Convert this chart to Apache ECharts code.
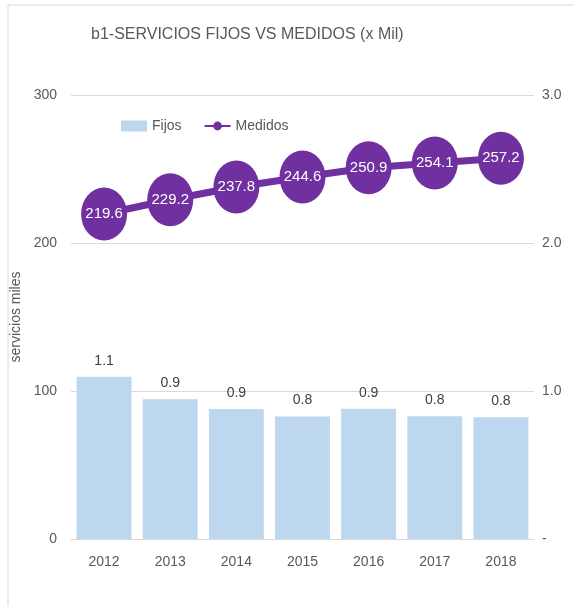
<!DOCTYPE html>
<html>
<head>
<meta charset="utf-8">
<script src="https://cdn.jsdelivr.net/npm/echarts@6/dist/echarts.min.js"></script>
<style>
  html, body { margin: 0; padding: 0; background: #fff; }
  #chart { width: 574px; height: 606px; }
</style>
</head>
<body>
<div id="chart"></div>
<script>
var myChart = echarts.init(document.getElementById('chart'));

var titleText = 'b1-SERVICIOS FIJOS VS MEDIDOS (x Mil)';
var years = ['2012', '2013', '2014', '2015', '2016', '2017', '2018'];
// Fijos on the right axis (0 - 3)
var fijos = [1.097, 0.944, 0.878, 0.828, 0.880, 0.830, 0.823];
// Medidos on the left axis (0 - 300)
var medidos = [219.6, 229.2, 237.8, 244.6, 250.9, 254.1, 257.2];

var textColor = '#595959';
var gridColor = '#d9d9d9';
var purple = '#7030a0';
var barColor = '#bdd7ee';
var fontFam = 'Liberation Sans';

option = {
    backgroundColor: '#fff',
    textStyle: { fontFamily: fontFam },
    title: {
        text: titleText,
        left: 86,
        top: 22,
        textStyle: { color: textColor, fontSize: 16, fontWeight: 'normal', fontFamily: fontFam }
    },
    graphic: [{
        type: 'rect',
        shape: { x: 8, y: 5, width: 620, height: 640 },
        style: { fill: 'none', stroke: gridColor, lineWidth: 1 },
        silent: true
    }],
    legend: {
        left: 116,
        top: 114,
        itemGap: 22,
        itemWidth: 26,
        itemHeight: 11,
        textStyle: { color: textColor, fontSize: 14 },
        data: [
            { name: 'Fijos', icon: 'rect' },
            { name: 'Medidos', itemStyle: { color: purple } }
        ]
    },
    grid: { left: 71, right: 40, top: 95, bottom: 67 },
    xAxis: {
        type: 'category',
        data: years,
        axisLine: { lineStyle: { color: gridColor } },
        axisTick: { show: false },
        axisLabel: { color: textColor, fontSize: 14, margin: 16 }
    },
    yAxis: [{
        type: 'value',
        min: 0,
        max: 300,
        interval: 100,
        name: 'servicios miles',
        nameLocation: 'middle',
        nameRotate: 90,
        nameGap: 45,
        nameTextStyle: { color: textColor, fontSize: 14 },
        axisLine: { show: false },
        axisTick: { show: false },
        axisLabel: { color: textColor, fontSize: 14, margin: 14 },
        splitLine: { lineStyle: { color: gridColor } }
    }, {
        type: 'value',
        min: 0,
        max: 3,
        interval: 1,
        axisLine: { show: false },
        axisTick: { show: false },
        splitLine: { show: false },
        axisLabel: {
            color: textColor, fontSize: 14, margin: 8,
            formatter: function (v) { return v === 0 ? '-' : v.toFixed(1); }
        }
    }],
    series: [{
        name: 'Fijos',
        type: 'bar',
        yAxisIndex: 1,
        data: fijos,
        barCategoryGap: '17%',
        itemStyle: { color: barColor },
        label: {
            show: true,
            position: 'top',
            distance: 9,
            color: '#404040',
            fontSize: 14,
            formatter: function (p) { return p.value.toFixed(1); }
        },
        z: 2
    }, {
        name: 'Medidos',
        type: 'line',
        yAxisIndex: 0,
        data: medidos,
        symbol: 'circle',
        symbolSize: [46, 53],
        lineStyle: { color: purple, width: 7 },
        itemStyle: { color: purple },
        label: {
            show: true,
            position: 'inside',
            color: '#fff',
            fontSize: 15,
            formatter: function (p) { return p.value.toFixed(1); }
        },
        z: 5
    }]
};
myChart.setOption(option);
</script>
</body>
</html>
